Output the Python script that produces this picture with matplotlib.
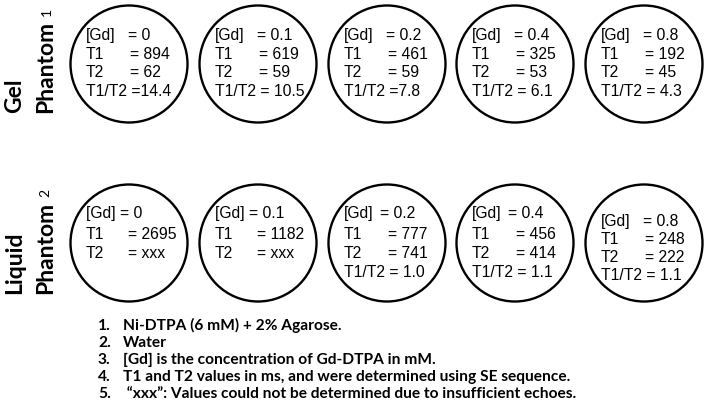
import matplotlib
matplotlib.use("Agg")
import matplotlib.pyplot as plt
from matplotlib.patches import Circle

# phantom values
gd = ["0", "0.1", "0.2", "0.4", "0.8"]
gel_t1 = ["894", "619", "461", "325", "192"]
gel_t2 = ["62", "59", "59", "53", "45"]
gel_ratio = ["=14.4", "= 10.5", "=7.8", "= 6.1", "= 4.3"]
liq_t1 = ["2695", "1182", "777", "456", "248"]
liq_t2 = ["xxx", "xxx", "741", "414", "222"]
liq_ratio = [None, None, "= 1.0", "= 1.1", "= 1.1"]

notes = [
    "Ni-DTPA (6 mM) + 2% Agarose.",
    "Water",
    "[Gd] is the concentration of Gd-DTPA in mM.",
    "T1 and T2 values in ms, and were determined using SE sequence.",
    " \u201cxxx\u201d: Values could not be determined due to insufficient echoes.",
]

W, H = 709, 407
fig = plt.figure(figsize=(W / 100, H / 100), dpi=100)
ax = fig.add_axes([0, 0, 1, 1])
ax.set_xlim(0, W)
ax.set_ylim(H, 0)
ax.axis("off")

cxs = [129, 258, 387, 515, 644]
r = 58.5
arial = "Liberation Sans"
fs = 11.3

def put(x, y, s):
    ax.text(x, y, s, family=arial, fontsize=fs, va="baseline", ha="left")

# gel row
for i, cx in enumerate(cxs):
    ax.add_patch(Circle((cx, 64), r, fill=False, lw=1.7, ec="black"))
    x0 = cx - 43
    ys = [40, 59, 77, 96]
    put(x0, ys[0], "[Gd]")
    put(cx - 1, ys[0], "= " + gd[i])
    put(x0, ys[1], "T1")
    put(cx + 1, ys[1], "= " + gel_t1[i])
    put(x0, ys[2], "T2")
    put(cx + 1, ys[2], "= " + gel_t2[i])
    put(x0, ys[3], "T1/T2 " + gel_ratio[i])

# liquid row
for i, cx in enumerate(cxs):
    ax.add_patch(Circle((cx, 243), r, fill=False, lw=1.7, ec="black"))
    x0 = cx - 43
    ys = [218, 239, 258, 277] if i < 4 else [226, 244, 262, 280]
    if i < 2:
        put(x0, ys[0], "[Gd] = " + gd[i])
    else:
        put(x0, ys[0], "[Gd]")
        put(cx - 7 if i < 4 else cx - 1, ys[0], "= " + gd[i])
    put(x0, ys[1], "T1")
    put(cx - 1 if i < 2 else cx + 1, ys[1], "= " + liq_t1[i])
    put(x0, ys[2], "T2")
    put(cx - 1 if i < 2 else cx + 1, ys[2], "= " + liq_t2[i])
    if liq_ratio[i] is not None:
        put(x0, ys[3], "T1/T2 " + liq_ratio[i])

# row labels
lab = dict(family="Lato", fontweight="bold", fontsize=16.5, rotation=90,
           ha="center", va="bottom")
ax.text(15, 113, "Gel", **lab)
ax.text(46, 113, "Phantom", **lab)
ax.text(47, 12, "1", family="Lato", fontsize=10, rotation=90, ha="center", va="center")
ax.text(15, 294, "Liquid", **lab)
ax.text(46, 294, "Phantom", **lab)
ax.text(45, 193, "2", family="Lato", fontsize=10, rotation=90, ha="center", va="center")

# footnotes
for k, s in enumerate(notes):
    y = 330 + k * 17
    ax.text(98, y, f"{k + 1}.", family="Lato", fontweight="bold", fontsize=11.2, va="baseline")
    ax.text(123, y, s, family="Lato", fontweight="bold", fontsize=11.2, va="baseline")

fig.savefig("out.png", dpi=100)
